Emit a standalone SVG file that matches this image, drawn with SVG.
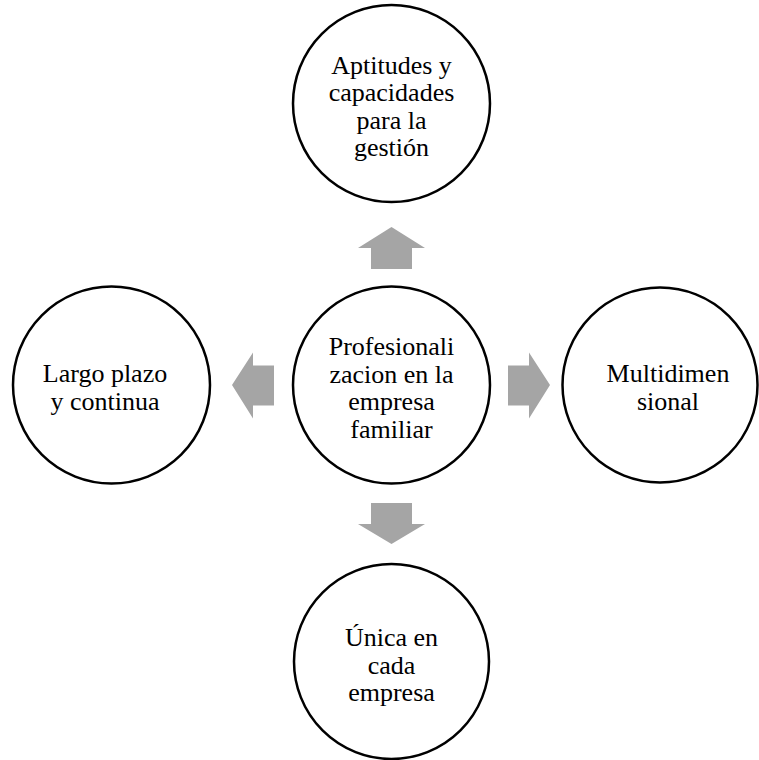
<svg xmlns="http://www.w3.org/2000/svg" width="759" height="760" viewBox="0 0 759 760">
<style>
.node circle{fill:#fff;stroke:#000;stroke-width:2.5}
.node text{font-family:"Liberation Serif","Times New Roman",serif;font-size:26px;fill:#000;text-anchor:middle}
.arrow{fill:#a5a5a5;stroke:none}
</style>
<rect width="759" height="760" fill="#fff"/>
<g id="connectors">
<polygon class="arrow" points="391.5,227 425,248 412,248 412,269 371,269 371,248 358,248"/>
<polygon class="arrow" points="391.5,544 425,524 412,524 412,503 371,503 371,524 358,524"/>
<polygon class="arrow" points="232,385 253,352.5 253,365.5 274,365.5 274,405.5 253,405.5 253,418.5"/>
<polygon class="arrow" points="550,385 529,352.5 529,365.5 508,365.5 508,405.5 529,405.5 529,418.5"/>
</g>
<g id="center" class="node">
<circle cx="391.5" cy="385" r="98.5"/>
<text x="391.5" y="355">Profesionali</text>
<text x="391.5" y="382.5">zacion en la</text>
<text x="391.5" y="410">empresa</text>
<text x="391.5" y="437.5">familiar</text>
</g>
<g id="top" class="node">
<circle cx="391.5" cy="103.5" r="98.5"/>
<text x="391.5" y="73.5">Aptitudes y</text>
<text x="391.5" y="101">capacidades</text>
<text x="391.5" y="128.5">para la</text>
<text x="391.5" y="156">gestión</text>
</g>
<g id="left" class="node">
<circle cx="111.5" cy="385" r="98.5"/>
<text x="105" y="382">Largo plazo</text>
<text x="105" y="409.5">y continua</text>
</g>
<g id="right" class="node">
<circle cx="660" cy="385" r="97.5"/>
<text x="668" y="382">Multidimen</text>
<text x="668" y="409.5">sional</text>
</g>
<g id="bottom" class="node">
<circle cx="391.5" cy="661.5" r="97.5"/>
<text x="391.5" y="646">Única en</text>
<text x="391.5" y="673.5">cada</text>
<text x="391.5" y="701">empresa</text>
</g>
</svg>
